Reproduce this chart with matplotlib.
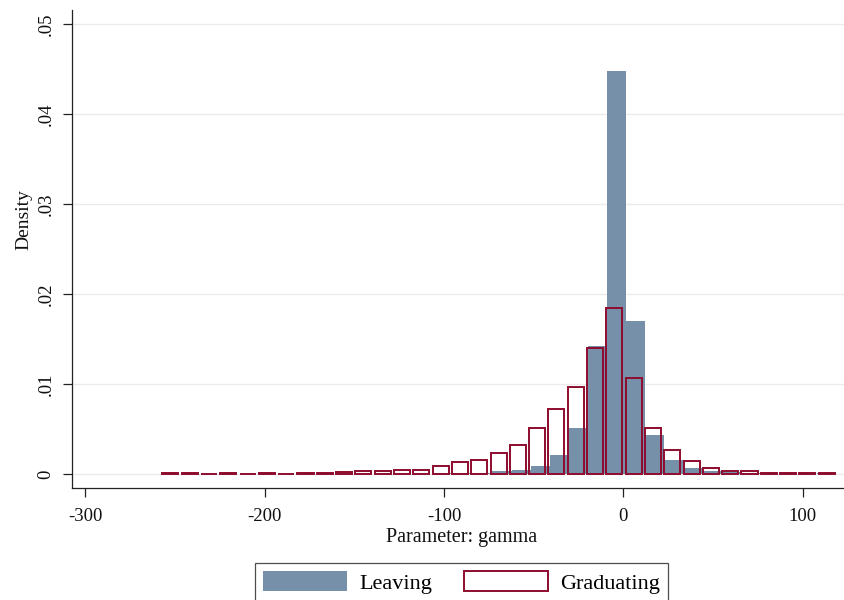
import numpy as np
import matplotlib
matplotlib.use("Agg")
import matplotlib.pyplot as plt
from matplotlib.patches import Patch

plt.rcParams["font.family"] = ["Liberation Serif", "DejaVu Serif"]
plt.rcParams["axes.unicode_minus"] = False

# histogram bins (Stata-style: equal width from min to max)
leave_min, leave_max, leave_nbins = -243.4, 118.7, 34
grad_min, grad_max, grad_nbins = -257.9, 118.7, 35

# density per bin
leaving = [0.00002, 0.00002, 0.00002, 0.00002, 0.00005, 0.00005, 0.00002,
           0.00005, 0.00005, 0.00003, 0.00005, 0.00005, 0.00008, 0.0001,
           0.00012, 0.00015, 0.00037, 0.00048, 0.00096, 0.00214, 0.00514,
           0.01426, 0.0448, 0.01703, 0.00437, 0.00159, 0.0007, 0.00037,
           0.0002, 0.0001, 0.00005, 0.00005, 0.00005, 0.0001]
graduating = [0.0001, 0.0001, 0.00008, 0.0001, 0.00008, 0.0001, 0.00008,
              0.0001, 0.00012, 0.00028, 0.00038, 0.00042, 0.00052, 0.00046,
              0.00088, 0.00133, 0.00155, 0.00232, 0.00325, 0.00513, 0.00727,
              0.00975, 0.01408, 0.01853, 0.0107, 0.0051, 0.00265, 0.00148,
              0.00075, 0.00038, 0.00035, 0.00015, 0.0001, 0.00015, 0.0001]

yticks = [0, 0.01, 0.02, 0.03, 0.04, 0.05]
ytick_labels = ["0", ".01", ".02", ".03", ".04", ".05"]
xticks = [-300, -200, -100, 0, 100]

blue = "#7690AA"
red = "#8E0B2E"

fig = plt.figure(figsize=(8.45, 6.0), dpi=100)
ax = fig.add_axes([71.7 / 845, 1 - 488.3 / 600, (852 - 71.7) / 845, (488.3 - 10) / 600])

e_leave = np.linspace(leave_min, leave_max, leave_nbins + 1)
e_grad = np.linspace(grad_min, grad_max, grad_nbins + 1)

ax.bar(e_leave[:-1], leaving, width=np.diff(e_leave), align="edge",
       color=blue, linewidth=0, zorder=2)
inset = 0.9
ax.bar(e_grad[:-1] + inset, graduating, width=np.diff(e_grad) - 2 * inset,
       align="edge", fill=False, edgecolor=red, linewidth=1.4, zorder=3)

ax.set_xlim(-307.5, 127.4)
ax.set_ylim(-0.001556, 0.05159)
ax.set_xticks(xticks)
ax.set_yticks(yticks)
ax.set_yticklabels(ytick_labels)
ax.grid(axis="y", color="#EBEBEB", linewidth=1.0)
ax.set_axisbelow(True)

for s in ["top", "right"]:
    ax.spines[s].set_visible(False)
for s in ["left", "bottom"]:
    ax.spines[s].set_color("#222222")
    ax.spines[s].set_linewidth(0.9)

ax.tick_params(axis="both", direction="out", length=6.5, width=0.9,
               color="#222222", labelsize=13.5, labelcolor="#111111")
ax.tick_params(axis="y", pad=6.0, labelrotation=90)
ax.tick_params(axis="x", pad=7.5)
for lab in ax.get_yticklabels():
    lab.set_va("center")

ax.set_xlabel("Parameter: gamma", fontsize=14.5, color="#111111")
ax.xaxis.set_label_coords(0.5, -0.083)
ax.set_ylabel("Density", fontsize=14, color="#111111")
ax.yaxis.set_label_coords(-0.05, 0.561)

handles = [Patch(facecolor=blue, edgecolor=blue, linewidth=0),
           Patch(facecolor="white", edgecolor=red, linewidth=1.4)]
leg = fig.legend(handles, ["Leaving", "Graduating"], loc="upper center",
                 bbox_to_anchor=(461.5 / 845, 1 - 562.7 / 600),
                 bbox_transform=fig.transFigure, ncol=2, fontsize=16,
                 frameon=True, fancybox=False, borderaxespad=0,
                 borderpad=0.36, handlelength=3.8, handleheight=1.05,
                 handletextpad=0.55, columnspacing=1.4)
leg.get_frame().set_edgecolor("#222222")
leg.get_frame().set_linewidth(0.9)

fig.savefig("out.png", dpi=100)
